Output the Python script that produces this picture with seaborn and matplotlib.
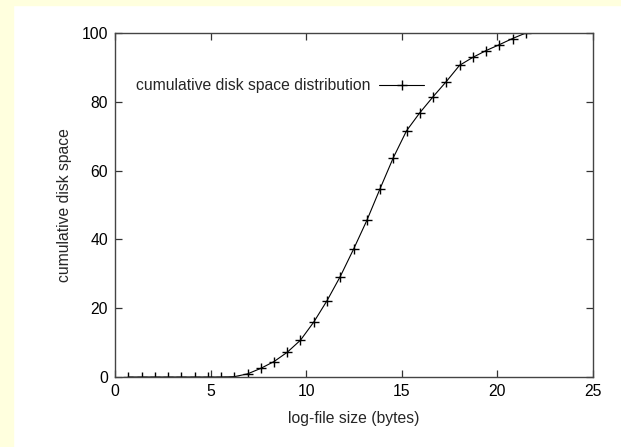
import matplotlib
matplotlib.use("Agg")
import matplotlib.pyplot as plt
import seaborn as sns
import pandas as pd

# data: log-file size (natural log of bytes) and cumulative disk space (%)
log_size = [0.69, 1.39, 2.08, 2.77, 3.47, 4.16, 4.85, 5.55, 6.24, 6.93,
            7.62, 8.32, 9.01, 9.70, 10.40, 11.09, 11.78, 12.48, 13.17, 13.86,
            14.56, 15.25, 15.94, 16.64, 17.33, 18.02, 18.71, 19.41, 20.10,
            20.79, 21.49]
cum_space = [0.0, 0.0, 0.0, 0.0, 0.0, 0.0, 0.0, 0.0, 0.1, 0.9,
             2.5, 4.5, 7.2, 10.7, 16.0, 22.2, 29.2, 37.2, 45.5, 54.7,
             63.8, 71.6, 76.8, 81.5, 85.9, 90.6, 92.9, 94.9, 96.6,
             98.4, 100.0]
series_label = "cumulative disk space distribution"
x_ticks = [0, 5, 10, 15, 20, 25]
y_ticks = [0, 20, 40, 60, 80, 100]

df = pd.DataFrame({"x": log_size, "y": cum_space})

sns.set_style("ticks")
plt.rcParams["font.family"] = ["Liberation Sans", "DejaVu Sans"]
FS = 11.3

fig = plt.figure(figsize=(6.21, 4.47), dpi=100)
fig.patch.set_facecolor("white")
# light yellow frame on the left and top
fig.add_artist(plt.Rectangle((0, 0), 13 / 621, 1, transform=fig.transFigure,
                             color="#ffffde", zorder=-10))
fig.add_artist(plt.Rectangle((0, 1 - 5 / 447), 1, 5 / 447, transform=fig.transFigure,
                             color="#ffffde", zorder=-10))

ax = fig.add_axes([115 / 621, 1 - 377 / 447, (593 - 115) / 621, (377 - 33) / 447])
ax.set_facecolor("white")

sns.lineplot(data=df, x="x", y="y", ax=ax, color="black", linewidth=0.8,
             marker="+", markersize=7, markeredgewidth=1.0,
             markeredgecolor="black", label=series_label)

ax.set_xlim(0, 25)
ax.set_ylim(0, 100)
ax.set_xticks(x_ticks)
ax.set_yticks(y_ticks)
ax.tick_params(direction="in", length=5, width=0.9, color="#333333",
               top=True, right=True, labelsize=FS, pad=5, labelcolor="black")
for s in ax.spines.values():
    s.set_color("#444444")
    s.set_linewidth(1.0)

ax.set_xlabel("log-file size (bytes)", fontsize=FS, labelpad=9)
ax.set_ylabel("cumulative disk space", fontsize=FS, labelpad=7)

ax.legend(loc="center left", bbox_to_anchor=(0.03, 0.846), borderaxespad=0,
          frameon=False, markerfirst=False, fontsize=FS,
          handlelength=2.9, handletextpad=0.56)

fig.savefig("out.png", dpi=100)
